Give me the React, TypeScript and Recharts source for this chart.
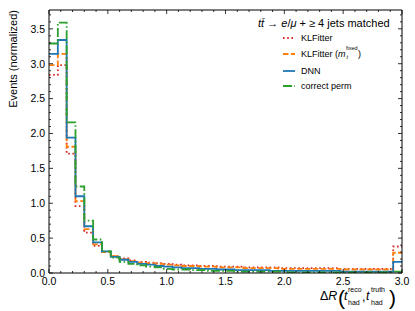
import React from "react";
import { LineChart, Line, XAxis, YAxis, Legend } from "recharts";

// 40 bins of width 0.075 on [0, 3]
const BIN_WIDTH = 0.075;

const KLFITTER = [
  2.84, 2.98, 1.71, 0.96, 0.58, 0.39, 0.3, 0.24, 0.21, 0.18,
  0.16, 0.15, 0.14, 0.13, 0.12, 0.11, 0.11, 0.1, 0.1, 0.09,
  0.09, 0.09, 0.08, 0.08, 0.08, 0.08, 0.07, 0.07, 0.07, 0.07,
  0.07, 0.07, 0.07, 0.06, 0.06, 0.06, 0.06, 0.06, 0.06, 0.38,
];
const KLFITTER_MFIXED = [
  2.98, 3.14, 1.81, 1.03, 0.63, 0.41, 0.3, 0.24, 0.2, 0.17,
  0.15, 0.14, 0.13, 0.12, 0.11, 0.1, 0.1, 0.09, 0.09, 0.08,
  0.08, 0.08, 0.07, 0.07, 0.07, 0.07, 0.06, 0.06, 0.06, 0.06,
  0.06, 0.06, 0.06, 0.05, 0.05, 0.05, 0.05, 0.05, 0.05, 0.29,
];
const DNN = [
  3.14, 3.34, 1.94, 1.1, 0.67, 0.44, 0.31, 0.23, 0.19, 0.16,
  0.13, 0.12, 0.1, 0.09, 0.08, 0.07, 0.07, 0.06, 0.06, 0.05,
  0.05, 0.04, 0.04, 0.04, 0.04, 0.03, 0.03, 0.03, 0.03, 0.03,
  0.03, 0.03, 0.03, 0.02, 0.02, 0.02, 0.02, 0.02, 0.02, 0.16,
];
const CORRECT_PERM = [
  3.29, 3.59, 2.16, 1.24, 0.75, 0.48, 0.31, 0.22, 0.16, 0.13,
  0.11, 0.09, 0.08, 0.06, 0.05, 0.05, 0.04, 0.04, 0.03, 0.03,
  0.03, 0.02, 0.02, 0.02, 0.02, 0.02, 0.02, 0.01, 0.01, 0.01,
  0.01, 0.01, 0.01, 0.01, 0.01, 0.01, 0.01, 0.01, 0.01, 0.02,
];

const X_TICKS = Array.from({ length: 31 }, (_, i) => +(i * 0.1).toFixed(1));
const Y_TICKS = Array.from({ length: 38 }, (_, i) => +(i * 0.1).toFixed(1));

const SERIES = [
  { key: "kl", values: KLFITTER, color: "#d62728", dash: "1.6 2.6" },
  { key: "klm", values: KLFITTER_MFIXED, color: "#ff7f0e", dash: "5.5 2.4" },
  { key: "dnn", values: DNN, color: "#1f77b4", dash: undefined },
  { key: "perm", values: CORRECT_PERM, color: "#2ca02c", dash: "9 2.4 1.6 2.4" },
];

// step edges: one row per bin edge, last edge repeats the final bin
const data = Array.from({ length: KLFITTER.length + 1 }, (_, i) => {
  const row: Record<string, number> = { x: +(i * BIN_WIDTH).toFixed(4) };
  const j = Math.min(i, KLFITTER.length - 1);
  SERIES.forEach((s) => (row[s.key] = s.values[j]));
  return row;
});

const FONT = "'Liberation Sans', Arial, Helvetica, sans-serif";
const isMajor = (v: number) => Math.abs(v * 2 - Math.round(v * 2)) < 1e-6;

function BottomTick({ x, y, payload }: any) {
  const major = isMajor(payload.value);
  return (
    <g>
      <line x1={x} x2={x} y1={y} y2={y - (major ? 4 : 2)} stroke="#000" strokeWidth={0.8} />
      {major && (
        <text x={x} y={y + 12} textAnchor="middle" fontSize={10.5} fontFamily={FONT} fill="#000">
          {payload.value.toFixed(1)}
        </text>
      )}
    </g>
  );
}

function TopTick({ x, y, payload }: any) {
  const major = isMajor(payload.value);
  return <line x1={x} x2={x} y1={y} y2={y + (major ? 4 : 2)} stroke="#000" strokeWidth={0.8} />;
}

function LeftTick({ x, y, payload }: any) {
  const major = isMajor(payload.value);
  return (
    <g>
      <line x1={x} x2={x + (major ? 4 : 2)} y1={y} y2={y} stroke="#000" strokeWidth={0.8} />
      {major && (
        <text x={x - 4} y={y + 3.8} textAnchor="end" fontSize={10.5} fontFamily={FONT} fill="#000">
          {payload.value.toFixed(1)}
        </text>
      )}
    </g>
  );
}

function RightTick({ x, y, payload }: any) {
  const major = isMajor(payload.value);
  return <line x1={x} x2={x - (major ? 4 : 2)} y1={y} y2={y} stroke="#000" strokeWidth={0.8} />;
}

function XTitle({ viewBox }: any) {
  const r = viewBox.x + viewBox.width;
  const b = viewBox.y + 27;
  return (
    <g fontFamily={FONT} fill="#000">
      <text x={r - 82} y={b} fontSize={12.5}>
        Δ<tspan fontStyle="italic">R</tspan>
      </text>
      <text x={r - 64} y={b + 5} fontSize={21}>(</text>
      <text x={r - 58} y={b} fontSize={12.5} fontStyle="italic">t</text>
      <text x={r - 54} y={b - 8} fontSize={7}>reco</text>
      <text x={r - 54} y={b + 5} fontSize={7}>had</text>
      <text x={r - 40} y={b + 1} fontSize={12.5}>,</text>
      <text x={r - 36} y={b} fontSize={12.5} fontStyle="italic">t</text>
      <text x={r - 31} y={b - 8} fontSize={7}>truth</text>
      <text x={r - 31} y={b + 5} fontSize={7}>had</text>
      <text x={r - 13} y={b + 5} fontSize={21}>)</text>
    </g>
  );
}

function YTitle() {
  return (
    <text
      x={13}
      y={10}
      transform="rotate(-90, 13, 10)"
      textAnchor="end"
      dominantBaseline="central"
      fontSize={11}
      fontFamily={FONT}
      fill="#000"
    >
      Events (normalized)
    </text>
  );
}

function LegendBox() {
  const ys = [38, 54, 71, 86];
  const t = { fontFamily: FONT, fill: "#000" };
  return (
    <svg width={415} height={100} style={{ display: "block" }}>
      <text x={258} y={27} fontSize={11} {...t}>
        <tspan fontStyle="italic">t</tspan>
        <tspan fontStyle="italic">t̄</tspan> → <tspan fontStyle="italic">e</tspan>/
        <tspan fontStyle="italic">μ</tspan> + ≥ 4 jets matched
      </text>
      {SERIES.map((s, i) => (
        <line
          key={s.key}
          x1={283}
          x2={295}
          y1={ys[i]}
          y2={ys[i]}
          stroke={s.color}
          strokeWidth={1.8}
          strokeDasharray={s.dash}
        />
      ))}
      <text x={301} y={ys[0] + 3.2} fontSize={9} {...t}>KLFitter</text>
      <text x={301} y={ys[1] + 3.2} fontSize={9} {...t}>
        KLFitter (<tspan fontStyle="italic">m</tspan>
      </text>
      <text x={346} y={ys[1] - 4.5} fontSize={5.5} {...t}>fixed</text>
      <text x={346.5} y={ys[1] + 4.5} fontSize={5.5} fontStyle="italic" {...t}>t</text>
      <text x={358} y={ys[1] + 3.2} fontSize={9} {...t}>)</text>
      <text x={301} y={ys[2] + 3.2} fontSize={9} {...t}>DNN</text>
      <text x={301} y={ys[3] + 3.2} fontSize={9} {...t}>correct perm</text>
    </svg>
  );
}

export default function App() {
  return (
    <div style={{ position: "absolute", left: 0, top: 0, background: "#fff" }}>
      <LineChart width={415} height={311} data={data} margin={{ top: 0, right: 0, bottom: 0, left: 0 }}>
        <XAxis
          xAxisId="b"
          dataKey="x"
          type="number"
          domain={[0, 3]}
          ticks={X_TICKS}
          interval={0}
          tickSize={0}
          tickMargin={0}
          tick={<BottomTick />}
          height={38}
          stroke="#000"
          allowDataOverflow
          label={{ content: <XTitle /> }}
        />
        <XAxis
          xAxisId="t"
          orientation="top"
          dataKey="x"
          type="number"
          domain={[0, 3]}
          ticks={X_TICKS}
          interval={0}
          tickSize={0}
          tickMargin={0}
          tick={<TopTick />}
          height={10}
          stroke="#000"
          allowDataOverflow
        />
        <YAxis
          yAxisId="l"
          type="number"
          domain={[0, 3.77]}
          ticks={Y_TICKS}
          interval={0}
          tickSize={0}
          tickMargin={0}
          tick={<LeftTick />}
          width={49}
          stroke="#000"
          allowDataOverflow
          label={{ content: <YTitle /> }}
        />
        <YAxis
          yAxisId="r"
          orientation="right"
          type="number"
          domain={[0, 3.77]}
          ticks={Y_TICKS}
          interval={0}
          tickSize={0}
          tickMargin={0}
          tick={<RightTick />}
          width={13}
          stroke="#000"
          allowDataOverflow
        />
        {SERIES.map((s) => (
          <Line
            key={s.key}
            xAxisId="b"
            yAxisId="l"
            type="stepAfter"
            dataKey={s.key}
            stroke={s.color}
            strokeWidth={1.8}
            strokeDasharray={s.dash}
            dot={false}
            activeDot={false}
            isAnimationActive={false}
          />
        ))}
        <Legend
          layout="vertical"
          align="center"
          verticalAlign="middle"
          wrapperStyle={{ left: 0, top: 0, width: 415, height: 100 }}
          content={<LegendBox />}
        />
      </LineChart>
    </div>
  );
}
